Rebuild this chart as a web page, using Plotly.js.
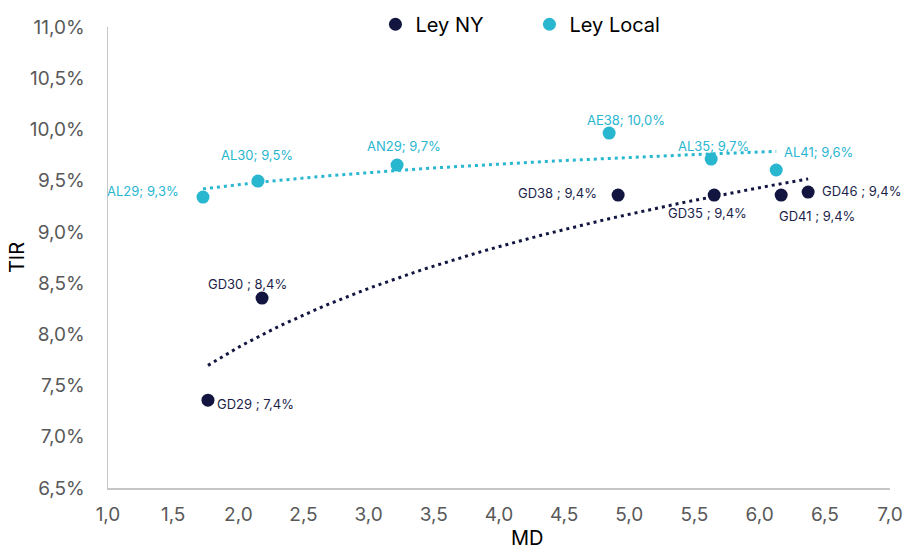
<!DOCTYPE html>
<html>
<head>
<meta charset="utf-8">
<script src="https://cdn.plot.ly/plotly-3.0.1.min.js"></script>
<style>html,body{margin:0;padding:0;background:#fff;}#chart{width:906px;height:549px;}</style>
</head>
<body>
<div id="chart"></div>
<script>
// ---- Data ----
const nyNames = ['GD29', 'GD30', 'GD38', 'GD35', 'GD41', 'GD46'];
const nyMD    = [1.767, 2.182, 4.914, 5.651, 6.165, 6.372];
const nyTIR   = [7.357, 8.354, 9.359, 9.359, 9.359, 9.389];

const localNames = ['AL29', 'AL30', 'AN29', 'AE38', 'AL35', 'AL41'];
const localMD    = [1.729, 2.151, 3.218, 4.845, 5.628, 6.127];
const localTIR   = [9.340, 9.496, 9.652, 9.965, 9.711, 9.604];

const seriesNames = ['Ley NY', 'Ley Local'];

// ---- Styles ----
const NAVY = '#11153f';
const TEAL = '#29b6cf';
// label offsets in px (dx right, dy down) from each point
const nyLabelOffsets    = [[48, 4], [-15, -14], [-61, -2], [-7, 18], [36, 21], [53, -1]];
const localLabelOffsets = [[-60, -6], [-1, -26], [7, -19], [17, -13], [2, -13], [42, -18]];

// logarithmic trendline (least squares on ln x), like a spreadsheet trendline
function logTrend(xs, ys, n) {
  const lx = xs.map(Math.log);
  const mx = lx.reduce((a, b) => a + b, 0) / lx.length;
  const my = ys.reduce((a, b) => a + b, 0) / ys.length;
  let sxy = 0, sxx = 0;
  lx.forEach((v, i) => { sxy += (v - mx) * (ys[i] - my); sxx += (v - mx) * (v - mx); });
  const b = sxy / sxx, a = my - b * mx;
  const x0 = Math.min(...xs), x1 = Math.max(...xs);
  const tx = [], ty = [];
  for (let i = 0; i <= n; i++) {
    const x = x0 + (x1 - x0) * i / n;
    tx.push(x); ty.push(a + b * Math.log(x));
  }
  return {x: tx, y: ty};
}

function fmtLabel(name, v, sep) {
  return name + sep + v.toFixed(1).replace('.', ',') + '%';
}

const nyTr = logTrend(nyMD, nyTIR, 80);
const locTr = logTrend(localMD, localTIR, 80);

const FONT = 'Inter, Roboto, sans-serif';

const traces = [
  {x: nyTr.x, y: nyTr.y, mode: 'lines', line: {color: NAVY, width: 3, dash: '3px,4px'},
   showlegend: false, hoverinfo: 'skip'},
  {x: locTr.x, y: locTr.y, mode: 'lines', line: {color: TEAL, width: 3, dash: '3px,4px'},
   showlegend: false, hoverinfo: 'skip'},
  {x: nyMD, y: nyTIR, name: seriesNames[0], mode: 'markers', type: 'scatter',
   marker: {color: NAVY, size: 13}},
  {x: localMD, y: localTIR, name: seriesNames[1], mode: 'markers', type: 'scatter',
   marker: {color: TEAL, size: 13}}
];

const annotations = [];
nyNames.forEach((n, i) => annotations.push({
  x: nyMD[i], y: nyTIR[i], xref: 'x', yref: 'y', text: fmtLabel(n, nyTIR[i], ' ; '),
  showarrow: false, xanchor: 'center', yanchor: 'middle',
  xshift: nyLabelOffsets[i][0], yshift: -nyLabelOffsets[i][1],
  font: {family: FONT, size: 13, color: '#1c1f4a'}
}));
localNames.forEach((n, i) => annotations.push({
  x: localMD[i], y: localTIR[i], xref: 'x', yref: 'y', text: fmtLabel(n, localTIR[i], '; '),
  showarrow: false, xanchor: 'center', yanchor: 'middle',
  xshift: localLabelOffsets[i][0], yshift: -localLabelOffsets[i][1],
  font: {family: FONT, size: 13, color: TEAL}
}));
annotations.push({
  text: 'MD', xref: 'paper', yref: 'paper', x: 0.537, y: 0, yshift: -50,
  xanchor: 'center', yanchor: 'middle', showarrow: false,
  font: {family: FONT, size: 20, color: '#000'}
});

const layout = {
  width: 906, height: 549,
  margin: {l: 108, r: 16, t: 27, b: 61, pad: 0, autoexpand: false},
  paper_bgcolor: '#fff', plot_bgcolor: '#fff',
  separators: ',.',
  font: {family: FONT, color: '#595959'},
  xaxis: {
    range: [1, 7], tickmode: 'linear', tick0: 1, dtick: 0.5, tickformat: '.1f',
    showgrid: false, zeroline: false, showline: true, linecolor: '#c6c6c6', linewidth: 1.5,
    ticks: '', ticklabelstandoff: 9, automargin: false,
    tickfont: {size: 19, color: '#595959'}
  },
  yaxis: {
    range: [6.5, 11], tickmode: 'linear', tick0: 6.5, dtick: 0.5, tickformat: '.1f', ticksuffix: '%',
    showgrid: false, zeroline: false, showline: true, linecolor: '#c6c6c6', linewidth: 1.5,
    ticks: '', ticklabelstandoff: 18, automargin: false,
    tickfont: {size: 19, color: '#595959'},
    title: {text: 'TIR', font: {size: 20, color: '#000'}, standoff: 0}
  },
  legend: {
    orientation: 'h', x: 0.342, xanchor: 'left', y: 1.006, yanchor: 'middle',
    font: {size: 20, color: '#000'}, entrywidth: 109, entrywidthmode: 'pixels',
    bgcolor: 'rgba(0,0,0,0)'
  },
  annotations: annotations,
  showlegend: true
};

Plotly.newPlot('chart', traces, layout, {displayModeBar: false, staticPlot: true});
</script>
</body>
</html>
